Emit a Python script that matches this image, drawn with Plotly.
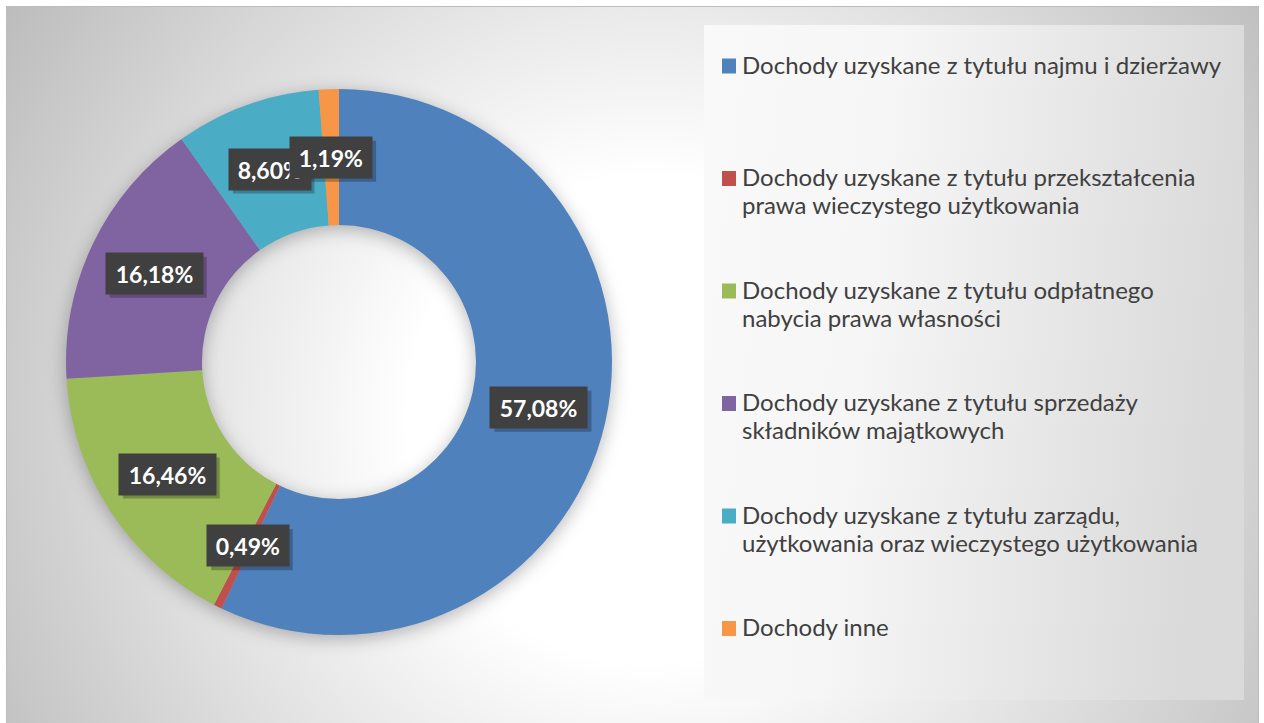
import base64, math
import plotly.graph_objects as go

# ---- data ----
categories = [
    "Dochody uzyskane z tytułu najmu i dzierżawy",
    "Dochody uzyskane z tytułu przekształcenia<br>prawa wieczystego użytkowania",
    "Dochody uzyskane z tytułu odpłatnego<br>nabycia prawa własności",
    "Dochody uzyskane z tytułu sprzedaży<br>składników majątkowych",
    "Dochody uzyskane z tytułu zarządu,<br>użytkowania oraz wieczystego użytkowania",
    "Dochody inne",
]
shares = [57.08, 0.49, 16.46, 16.18, 8.60, 1.19]
label_texts = ["57,08%", "0,49%", "16,46%", "16,18%", "8,60%", "1,19%"]
colors = ["#4F81BD", "#C0504D", "#9BBB59", "#8064A2", "#4BACC6", "#F79646"]

W, H = 1264, 723
CX, CY, R_OUT, R_IN = 339, 362, 273, 137
FONT = "Lato, Carlito, Calibri, sans-serif"

# ---- background (chart area gradient, donut shadow, legend panel) ----
svg = f'''<svg xmlns="http://www.w3.org/2000/svg" width="{W}" height="{H}" viewBox="0 0 {W} {H}">
<defs>
<radialGradient id="bg" gradientUnits="userSpaceOnUse" cx="650" cy="420" r="760">
<stop offset="0" stop-color="#ffffff"/><stop offset="0.32" stop-color="#ffffff"/>
<stop offset="1" stop-color="#bdbdbd"/></radialGradient>
<linearGradient id="lg" x1="0" y1="0" x2="1" y2="0.15">
<stop offset="0" stop-color="#f9f9f9"/><stop offset="0.35" stop-color="#f6f6f6"/><stop offset="1" stop-color="#dadada"/></linearGradient>
<filter id="blur" x="-20%" y="-20%" width="140%" height="140%"><feGaussianBlur stdDeviation="9"/></filter>
<filter id="sblur" x="-20%" y="-40%" width="140%" height="180%"><feGaussianBlur stdDeviation="2"/></filter>
</defs>
<rect x="0" y="0" width="{W}" height="{H}" fill="#ffffff"/>
<rect x="6.5" y="6.5" width="1252" height="730" fill="url(#bg)" stroke="#bcbcbc" stroke-width="1"/>
<path d="M {CX-R_OUT} {CY+4} a {R_OUT} {R_OUT} 0 1 0 {2*R_OUT} 0 a {R_OUT} {R_OUT} 0 1 0 {-2*R_OUT} 0 Z
M {CX-R_IN} {CY+4} a {R_IN} {R_IN} 0 1 0 {2*R_IN} 0 a {R_IN} {R_IN} 0 1 0 {-2*R_IN} 0 Z"
 fill="#000000" fill-opacity="0.28" fill-rule="evenodd" filter="url(#blur)"/>
<rect x="704" y="25" width="540" height="675" fill="url(#lg)"/>
</svg>'''
src = "data:image/svg+xml;base64," + base64.b64encode(svg.encode("utf-8")).decode("ascii")

fig = go.Figure()
fig.add_trace(go.Pie(
    labels=[c.replace("<br>", " ") for c in categories],
    values=shares,
    hole=R_IN / R_OUT,
    sort=False,
    direction="clockwise",
    rotation=0,
    textinfo="none",
    hoverinfo="label+percent",
    marker=dict(colors=colors, line=dict(width=0)),
    domain=dict(x=[(CX - R_OUT) / W, (CX + R_OUT) / W],
                y=[1 - (CY + R_OUT) / H, 1 - (CY - R_OUT) / H]),
    showlegend=False,
))

annotations = []
shapes = []

# ---- data labels (mid-ring of each slice) ----
total = sum(shares)
cum = 0.0
r_lab = (R_OUT + R_IN) / 2
PAD, BOX_H = 7, 41
for v, t in zip(shares, label_texts):
    mid = (cum + v / 2) / total * 2 * math.pi
    cum += v
    px = CX + r_lab * math.sin(mid)
    py = CY - r_lab * math.cos(mid)
    bw = 15.5 * len(t) + 4
    # soft drop shadow of the label box
    shapes.append(dict(type="rect", xref="paper", yref="paper",
                       x0=(px - bw / 2 + 4) / W, x1=(px + bw / 2 + 4) / W,
                       y0=1 - (py - BOX_H / 2 + 4) / H, y1=1 - (py + BOX_H / 2 + 4) / H,
                       fillcolor="rgba(0,0,0,0.25)", line=dict(width=0), layer="above"))
    annotations.append(dict(x=px / W, y=1 - py / H, xref="paper", yref="paper",
                            showarrow=False, borderpad=PAD,
                            width=bw - 2 * PAD, height=BOX_H - 2 * PAD,
                            xanchor="center", yanchor="middle", align="center",
                            bgcolor="#404040", text=f"<b>{t}</b>",
                            font=dict(family=FONT, size=23, color="#ffffff")))

# ---- legend (panel on the right) ----
LEG_TOP, LEG_STEP, LINE_STEP = 66, 112.5, 28
SYM_X0, SYM_X1, TXT_X = 722, 736, 740
for i, (c, col) in enumerate(zip(categories, colors)):
    y0 = LEG_TOP + i * LEG_STEP
    shapes.append(dict(type="rect", xref="paper", yref="paper",
                       x0=SYM_X0 / W, x1=SYM_X1 / W,
                       y0=1 - (y0 - 7.5) / H, y1=1 - (y0 + 7.5) / H,
                       fillcolor=col, line=dict(width=0), layer="above"))
    for j, line in enumerate(c.split("<br>")):
        annotations.append(dict(x=TXT_X / W, y=1 - (y0 - 2 + j * LINE_STEP) / H,
                                xref="paper", yref="paper", showarrow=False,
                                xanchor="left", yanchor="middle", text=line,
                                font=dict(family=FONT, size=24, color="#404040")))

fig.update_layout(
    width=W, height=H,
    margin=dict(l=0, r=0, t=0, b=0),
    paper_bgcolor="#ffffff",
    plot_bgcolor="rgba(0,0,0,0)",
    images=[dict(source=src, xref="paper", yref="paper", x=0, y=1,
                 sizex=1, sizey=1, xanchor="left", yanchor="top",
                 sizing="stretch", layer="below")],
    showlegend=False,
    annotations=annotations,
    shapes=shapes,
    font=dict(family=FONT),
)

fig.write_html("out.html", config={"displayModeBar": False},
               post_script="document.body.style.margin='0';")
